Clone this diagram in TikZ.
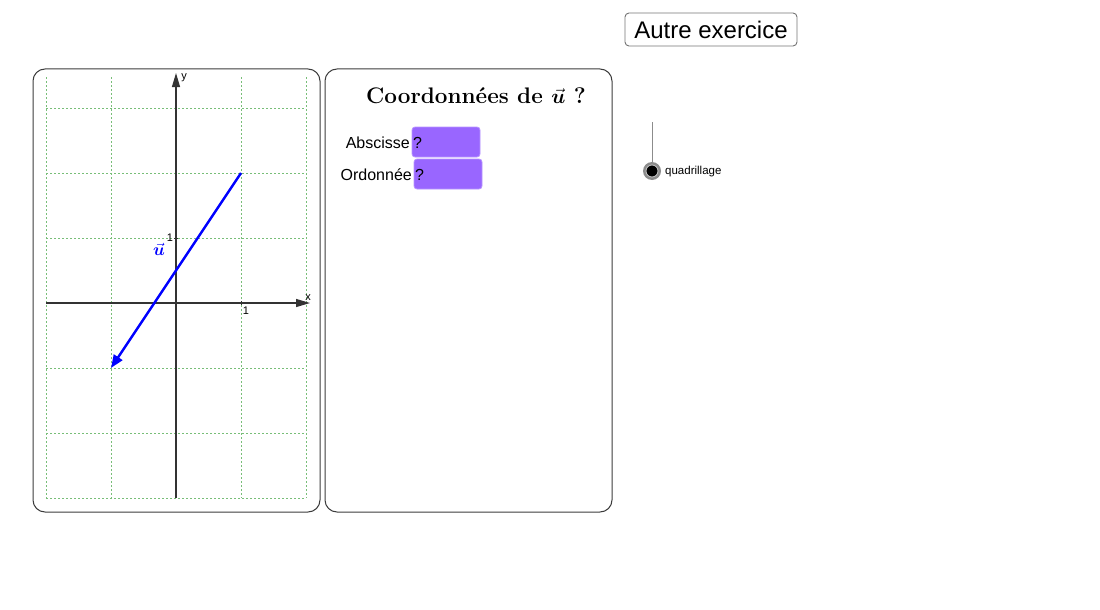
\documentclass[tikz,border=0pt]{standalone}
\usepackage{fontspec}
\usepackage{amsmath,bm}
\newfontfamily\sansf{Liberation Sans}
\usetikzlibrary{arrows.meta}
\definecolor{gridgreen}{RGB}{120,190,120}
\definecolor{boxpurple}{RGB}{153,102,255}
\definecolor{framegray}{RGB}{60,60,60}
\tikzset{
  panel/.style={draw=framegray, line width=1pt, rounded corners=12pt},
  gridline/.style={draw=gridgreen, line width=0.8pt, dash pattern=on 1.5pt off 2.5pt},
  axis/.style={draw=black!80, line width=1.2pt, -{Triangle[length=14pt,width=8pt]}},
  small/.style={font=\sansf\fontsize{11}{12}\selectfont, inner sep=1pt},
  label/.style={font=\sansf\fontsize{16}{18}\selectfont, inner sep=1pt},
  inbox/.style={fill=boxpurple, draw=boxpurple!70!white, rounded corners=3pt, line width=0.8pt},
  vec/.style={draw=blue, line width=2.4pt, -{Triangle[length=13pt,width=10pt]}}
}
\begin{document}
\begin{tikzpicture}[x=1pt,y=-1pt]
\useasboundingbox (0,0) rectangle (1100,610);
% panels
\draw[panel] (33,69) rectangle (320,512);
\draw[panel] (325,69) rectangle (612,512);
% grid
\foreach \gx in {46,111,241,306} \draw[gridline] (\gx,77) -- (\gx,498);
\foreach \gy in {108,173,238,368,433,498} \draw[gridline] (46,\gy) -- (306,\gy);
% axes
\coordinate (xs) at (46,303);
\coordinate (xe) at (310,303);
\coordinate (ys) at (176,498);
\coordinate (ye) at (176,73);
\draw[axis] (xs) -- (xe);
\draw[axis] (ys) -- (ye);
\draw[black!80, line width=1pt] (241,301) -- (241,305);
\draw[black!80, line width=1pt] (174,238) -- (178,238);
\node[small] (xl) at (308,298) {x};
\node[small] (yl) at (184,78) {y};
\node[small] (one1) at (170,238) {1};
\node[small] (one2) at (246,311) {1};
% vector
\coordinate (va) at (241,173);
\coordinate (vb) at (111,368);
\draw[vec] (va) -- (vb);
\node[text=blue, inner sep=0pt, font=\fontsize{16}{17}\selectfont] (ulab) at (159,249) {$\vec{\bm u}$};
% title
\node[inner sep=0pt, font=\fontsize{22.5}{26}\selectfont\bfseries] (title) at (476,96) {Coordonnées de $\vec{\bm u}$ ?};
% inputs
\draw[inbox] (412,127) rectangle (480,157);
\node[label, anchor=east] (absc) at (411,143) {Abscisse};
\node[label, anchor=west] (q1) at (412,143) {?};
\draw[inbox] (414,159) rectangle (482,189);
\node[label, anchor=east] (ordo) at (413,175) {Ordonnée};
\node[label, anchor=west] (q2) at (414,175) {?};
% button
\node[draw=black!55, line width=0.9pt, rounded corners=4pt, minimum width=172pt, minimum height=33pt, inner sep=0pt, font=\sansf\fontsize{24}{26}\selectfont] (btn) at (711,29.5) {Autre exercice};
% slider
\coordinate (st) at (652,122);
\node[circle, fill=black!45, minimum size=18pt, inner sep=0pt] (knob) at (652,171) {};
\node[circle, fill=black, draw=black!20, line width=0.8pt, minimum size=12pt, inner sep=0pt] at (knob) {};
\draw[black!45, line width=0.8pt] (st) -- (knob.north);
\node[font=\sansf\fontsize{11.5}{13}\selectfont, anchor=west, inner sep=0pt] (quad) at (665,172) {quadrillage};
\end{tikzpicture}
\end{document}
